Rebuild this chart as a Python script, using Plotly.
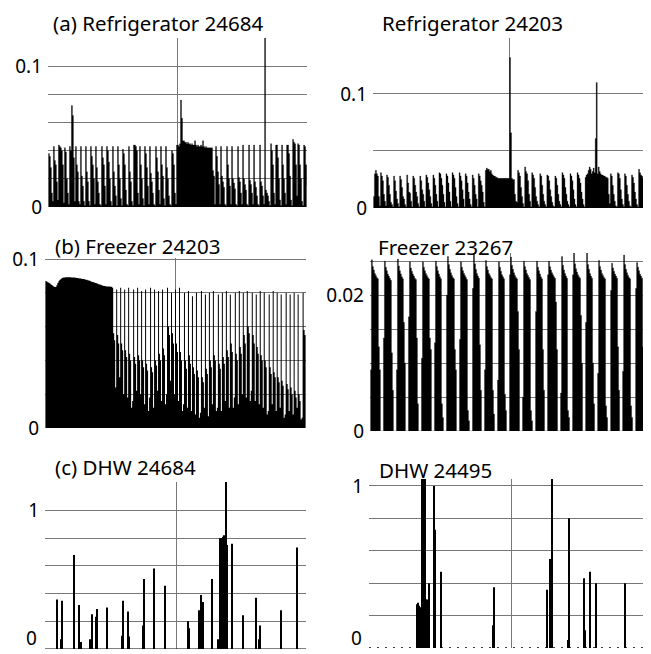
import plotly.graph_objects as go

# page body has an 8px default margin; the figure is sized so the page is 651x654
OFF = 8
W, H = 651 - OFF, 654 - OFF

# ---------------- (a) Refrigerator 24684 ----------------
ref24684_left_cycles = [
    [0.038, 0.036, 0.028, 0.010, 0.004],
    [0.043, 0.033, 0.030, 0.018, 0.005],
    [0.044, 0.043, 0.042, 0.040, 0.030, 0.003],
    [0.042, 0.039, 0.020, 0.010, 0.002],
    [0.043, 0.040, 0.072, 0.065, 0.035, 0.004],
    [0.043, 0.030, 0.025, 0.004, 0.002],
    [0.043, 0.022, 0.015, 0.004, 0.001],
    [0.043, 0.025, 0.018, 0.004, 0.001],
    [0.043, 0.036, 0.030, 0.020, 0.002],
    [0.043, 0.028, 0.018, 0.010, 0.002, 0.001],
    [0.043, 0.035, 0.030, 0.015, 0.002],
    [0.043, 0.040, 0.032, 0.020, 0.004, 0.001],
    [0.043, 0.025, 0.015, 0.008, 0.001],
    [0.043, 0.030, 0.020, 0.006, 0.001],
    [0.041, 0.038, 0.030, 0.012, 0.002, 0.001],
    [0.043, 0.025, 0.018, 0.004, 0.001],
    [0.044, 0.044, 0.043, 0.040, 0.010, 0.002],
    [0.043, 0.030, 0.020, 0.006, 0.001],
    [0.043, 0.038, 0.028, 0.015, 0.002],
    [0.043, 0.024, 0.018, 0.010, 0.002, 0.001],
    [0.043, 0.035, 0.025, 0.012, 0.002],
    [0.043, 0.030, 0.022, 0.006, 0.001],
    [0.043, 0.028, 0.020, 0.008, 0.002, 0.001],
    [0.040, 0.038, 0.030, 0.010, 0.002],
]
ref24684_block = [0.044, 0.044, 0.043, 0.045, 0.076, 0.063, 0.047, 0.047, 0.046, 0.046,
                  0.045, 0.046, 0.045, 0.045, 0.044, 0.045, 0.044, 0.044, 0.047, 0.044,
                  0.043, 0.044, 0.043, 0.043, 0.044, 0.043, 0.047, 0.043, 0.042, 0.043,
                  0.042, 0.042, 0.042, 0.042, 0.042, 0.042]
ref24684_right_cycles = [
    [0.026, 0.022, 0.002],
    [0.043, 0.036, 0.025, 0.016, 0.002],
    [0.043, 0.022, 0.018, 0.014, 0.002, 0.001],
    [0.043, 0.030, 0.020, 0.015, 0.002],
    [0.043, 0.020, 0.017, 0.013, 0.002, 0.001],
    [0.043, 0.021, 0.018, 0.010, 0.002],
    [0.044, 0.020, 0.016, 0.012, 0.002, 0.001],
    [0.044, 0.019, 0.016, 0.010, 0.002],
    [0.044, 0.018, 0.014, 0.008, 0.002, 0.001],
    [0.044, 0.018, 0.015, 0.008, 0.002],
    [0.130, 0.012, 0.010, 0.008, 0.004, 0.001],
    [0.045, 0.040, 0.030, 0.010, 0.002],
    [0.044, 0.044, 0.035, 0.020, 0.005, 0.001],
    [0.044, 0.030, 0.020, 0.010, 0.002],
    [0.044, 0.044, 0.038, 0.022, 0.005, 0.001],
    [0.048, 0.046, 0.045, 0.030, 0.008],
    [0.045, 0.044, 0.030, 0.020, 0.004, 0.001],
    [0.044, 0.043, 0.030, 0.015],
]

# ---------------- Refrigerator 24203 ----------------
ref24203_left_cycles = [
    [0.010, 0.030, 0.033, 0.030, 0.028, 0.010, 0.002],
    [0.031, 0.028, 0.024, 0.012, 0.006, 0.002],
    [0.029, 0.027, 0.020, 0.012, 0.005, 0.003, 0.001],
    [0.028, 0.024, 0.015, 0.008, 0.004, 0.001],
    [0.028, 0.025, 0.018, 0.010, 0.008, 0.003, 0.001],
    [0.029, 0.022, 0.014, 0.013, 0.006, 0.001],
    [0.028, 0.026, 0.020, 0.014, 0.010, 0.004, 0.001],
    [0.028, 0.024, 0.016, 0.012, 0.006, 0.001],
    [0.029, 0.027, 0.022, 0.016, 0.010, 0.004, 0.001],
    [0.029, 0.026, 0.020, 0.012, 0.006, 0.001],
    [0.031, 0.030, 0.026, 0.020, 0.012, 0.005, 0.001],
    [0.030, 0.028, 0.022, 0.014, 0.006, 0.001],
    [0.031, 0.029, 0.026, 0.018, 0.010, 0.004, 0.001],
    [0.031, 0.028, 0.024, 0.016, 0.008, 0.001],
    [0.030, 0.028, 0.022, 0.014, 0.008, 0.003, 0.001],
    [0.029, 0.026, 0.020, 0.012, 0.008, 0.001],
    [0.030, 0.028, 0.024, 0.020, 0.014, 0.005, 0.001],
]
ref24203_block1 = [0.033, 0.035, 0.034, 0.034, 0.032, 0.033, 0.030, 0.029, 0.028, 0.028,
                   0.027, 0.027, 0.026, 0.026, 0.026, 0.026, 0.026, 0.026, 0.026, 0.026,
                   0.026, 0.026, 0.026, 0.026, 0.132, 0.066, 0.026, 0.025, 0.025, 0.012,
                   0.006]
ref24203_mid_cycles = [
    [0.005, 0.033, 0.031, 0.028, 0.018, 0.010, 0.004, 0.001],
    [0.036, 0.032, 0.030, 0.024, 0.012, 0.006, 0.001],
    [0.031, 0.029, 0.026, 0.018, 0.010, 0.006, 0.003, 0.001],
    [0.030, 0.028, 0.020, 0.012, 0.006, 0.003, 0.001],
    [0.029, 0.028, 0.024, 0.016, 0.010, 0.005, 0.002, 0.001],
    [0.028, 0.026, 0.020, 0.012, 0.006, 0.003, 0.001],
    [0.031, 0.029, 0.026, 0.018, 0.012, 0.006, 0.003, 0.001],
    [0.030, 0.028, 0.024, 0.016, 0.008, 0.003, 0.001],
    [0.031, 0.029, 0.026, 0.022, 0.014, 0.008, 0.003, 0.001],
]
ref24203_block2 = [0.027, 0.029, 0.030, 0.033, 0.036, 0.034, 0.030, 0.032, 0.035, 0.031,
                   0.061, 0.110, 0.030, 0.036, 0.032, 0.030, 0.029, 0.029, 0.028, 0.028,
                   0.027, 0.027, 0.026, 0.012, 0.004]
ref24203_right_cycles = [
    [0.030, 0.028, 0.020, 0.012, 0.006, 0.002, 0.001],
    [0.031, 0.030, 0.026, 0.016, 0.008, 0.003, 0.001],
    [0.030, 0.028, 0.020, 0.012, 0.006, 0.002, 0.001],
    [0.029, 0.027, 0.022, 0.014, 0.008, 0.003, 0.001],
    [0.034, 0.031, 0.029, 0.028, 0.026, 0.012, 0.002],
]

# ---------------- (b) Freezer 24203 ----------------
frz24203_block = [0.087, 0.0867, 0.0863, 0.086, 0.0856, 0.085, 0.0846, 0.0842, 0.0838, 0.0835, 0.0834,
                  0.0845, 0.0858, 0.0869, 0.0876, 0.0882, 0.0886, 0.0889,
                  0.089, 0.0891, 0.0892, 0.0892, 0.0892, 0.0892, 0.0892, 0.0892, 0.0891, 0.0891,
                  0.089, 0.089, 0.0889, 0.0888, 0.0887,
                  0.0886, 0.0885, 0.0884, 0.0883, 0.0882, 0.0881, 0.0880, 0.0878, 0.0877, 0.0875,
                  0.0873, 0.0871, 0.0869, 0.0866, 0.0864, 0.0862, 0.086, 0.0858, 0.0856, 0.0853,
                  0.0851, 0.0849, 0.0847, 0.0845, 0.0843, 0.0841, 0.084, 0.0839, 0.0838, 0.0838,
                  0.0837, 0.0837, 0.0836, 0.0836]
frz24203_cycles = [
    [0.083, 0.056, 0.052, 0.024], [0.082, 0.055, 0.050, 0.030], [0.083, 0.050, 0.046, 0.020],
    [0.082, 0.046, 0.042, 0.018], [0.083, 0.044, 0.040, 0.012, 0.016], [0.082, 0.042, 0.038, 0.022],
    [0.083, 0.043, 0.040, 0.020], [0.081, 0.040, 0.036, 0.014], [0.082, 0.038, 0.034, 0.010, 0.018],
    [0.083, 0.036, 0.033, 0.012], [0.082, 0.040, 0.037, 0.022], [0.081, 0.044, 0.040, 0.016],
    [0.082, 0.047, 0.043, 0.014, 0.020], [0.083, 0.060, 0.055, 0.028], [0.080, 0.056, 0.050, 0.020],
    [0.082, 0.050, 0.045, 0.016], [0.083, 0.045, 0.040, 0.010, 0.014], [0.080, 0.040, 0.035, 0.012],
    [0.081, 0.043, 0.038, 0.010], [0.078, 0.036, 0.032, 0.008], [0.080, 0.034, 0.030, 0.006, 0.009],
    [0.081, 0.030, 0.027, 0.012], [0.079, 0.035, 0.032, 0.007], [0.080, 0.040, 0.036, 0.014],
    [0.081, 0.043, 0.040, 0.010, 0.012], [0.079, 0.038, 0.035, 0.010], [0.080, 0.042, 0.038, 0.016],
    [0.081, 0.046, 0.042, 0.012], [0.079, 0.050, 0.045, 0.012, 0.018], [0.080, 0.044, 0.040, 0.014],
    [0.081, 0.048, 0.044, 0.020], [0.080, 0.055, 0.050, 0.018], [0.081, 0.060, 0.056, 0.016, 0.022],
    [0.080, 0.055, 0.050, 0.016], [0.079, 0.048, 0.044, 0.014], [0.081, 0.043, 0.040, 0.012],
    [0.080, 0.040, 0.036, 0.008, 0.010], [0.079, 0.036, 0.032, 0.014], [0.081, 0.033, 0.030, 0.010],
    [0.080, 0.030, 0.027, 0.012], [0.079, 0.028, 0.025, 0.006, 0.008], [0.080, 0.026, 0.023, 0.010],
    [0.079, 0.024, 0.020, 0.008], [0.080, 0.022, 0.018, 0.012], [0.079, 0.020, 0.016, 0.005, 0.006],
    [0.080, 0.058, 0.055, 0.055],
]

# ---------------- Freezer 23267 ----------------
frz23267_cycles = [
    [0.009, 0.0252, 0.0242, 0.0237, 0.0232, 0.0229, 0.0226, 0.0224, 0.0124, 0.009, 0, 0, 0],
    [0.0137, 0.0250, 0.0241, 0.0236, 0.0231, 0.0228, 0.0225, 0.0222, 0.0115, 0.006, 0, 0, 0],
    [0.009, 0.0253, 0.0243, 0.0236, 0.0231, 0.0227, 0.0224, 0.016, 0.010, 0, 0, 0],
    [0.0168, 0.0249, 0.0240, 0.0235, 0.0231, 0.0228, 0.0225, 0.0223, 0.0137, 0.004, 0, 0, 0],
    [0.0107, 0.0249, 0.0241, 0.0236, 0.0232, 0.0229, 0.0226, 0.0224, 0.0137, 0.012, 0, 0, 0],
    [0.013, 0.0250, 0.0242, 0.0236, 0.0231, 0.0227, 0.0224, 0.004, 0.002, 0, 0, 0],
    [0.020, 0.0257, 0.0245, 0.0238, 0.0233, 0.0229, 0.0226, 0.0224, 0.012, 0.009, 0, 0, 0],
    [0.0135, 0.0249, 0.0241, 0.0236, 0.0232, 0.0229, 0.0226, 0.0223, 0.003, 0.0015, 0, 0, 0],
    [0.021, 0.0262, 0.0246, 0.0238, 0.0232, 0.0228, 0.0225, 0.0127, 0.006, 0, 0, 0],
    [0.009, 0.0251, 0.0242, 0.0237, 0.0232, 0.0229, 0.0226, 0.0224, 0.006, 0.0025, 0, 0, 0],
    [0.0075, 0.0249, 0.0241, 0.0235, 0.0230, 0.0227, 0.0224, 0.0054, 0.003, 0, 0, 0],
    [0.023, 0.0256, 0.0244, 0.0238, 0.0233, 0.0229, 0.0226, 0.0224, 0.0176, 0.012, 0, 0, 0],
    [0.005, 0.0250, 0.0242, 0.0237, 0.0232, 0.0229, 0.0226, 0.0223, 0.003, 0.0015, 0, 0, 0],
    [0.0176, 0.0250, 0.0241, 0.0236, 0.0231, 0.0227, 0.0224, 0.012, 0.006, 0, 0, 0],
    [0.023, 0.0250, 0.0242, 0.0237, 0.0233, 0.0230, 0.0227, 0.0225, 0.019, 0.012, 0, 0, 0],
    [0.0056, 0.0257, 0.0244, 0.0237, 0.0232, 0.0228, 0.0225, 0.003, 0.002, 0, 0, 0],
    [0.023, 0.0262, 0.0246, 0.0239, 0.0234, 0.0230, 0.0227, 0.0225, 0.017, 0.010, 0, 0, 0],
    [0.016, 0.0262, 0.0245, 0.0238, 0.0232, 0.0228, 0.0225, 0.010, 0.004, 0, 0, 0],
    [0.0085, 0.0251, 0.0242, 0.0237, 0.0232, 0.0229, 0.0226, 0.0224, 0.0037, 0.002, 0, 0, 0],
    [0.0207, 0.0247, 0.0240, 0.0235, 0.0231, 0.0228, 0.0225, 0.0124, 0.006, 0, 0, 0],
    [0.0088, 0.0259, 0.0245, 0.0238, 0.0233, 0.0229, 0.0226, 0.0224, 0.0037, 0.002, 0, 0, 0],
    [0.021, 0.0248, 0.0241, 0.0236, 0.0231, 0.0228, 0.0225, 0.0124, 0.004, 0, 0, 0],
    [0.018, 0.0247, 0.0238, 0.0232],
]

# ---------------- (c) DHW 24684 (events: time index, value) ----------------
dhw24684_t = [12, 16, 17, 29, 34, 36, 45, 47, 51, 52, 62, 77, 78, 83, 84, 98, 99, 109, 120,
              143, 144, 154, 156, 158, 167, 173, 175, 176, 177, 178, 179, 181, 182, 187,
              198, 211, 214, 215, 236, 252]
dhw24684_v = [0.358, 0.07, 0.349, 0.678, 0.317, 0.05, 0.07, 0.25, 0.233, 0.288, 0.30, 0.095,
              0.349, 0.27, 0.09, 0.17, 0.505, 0.58, 0.457, 0.20, 0.15, 0.28, 0.39, 0.34, 0.505,
              0.07, 0.80, 0.80, 0.80, 0.81, 0.82, 1.25, 0.75, 0.76, 0.243, 0.37, 0.07, 0.17,
              0.28, 0.733]

# ---------------- DHW 24495 ----------------
dhw24495_t = [48, 49, 50, 51, 52, 53, 54, 55, 56, 57, 58, 60, 65, 66, 72, 124, 125, 178, 181,
              183, 199, 200, 215, 216, 221, 227, 256]
dhw24495_v = [0.27, 0.28, 0.26, 0.25, 0.25, 1.1, 1.1, 1.1, 1.1, 0.30, 0.30, 0.40, 1.0, 0.73,
              0.47, 0.14, 0.375, 0.36, 0.55, 1.1, 0.05, 0.80, 0.43, 0.11, 0.47, 0.40, 0.40]

titles = ["(a) Refrigerator 24684", "Refrigerator 24203", "(b) Freezer 24203",
          "Freezer 23267", "(c) DHW 24684", "DHW 24495"]


def flat(cycles):
    return [v for c in cycles for v in c]


series1 = flat(ref24684_left_cycles) + ref24684_block + flat(ref24684_right_cycles)
series2 = (flat(ref24203_left_cycles) + ref24203_block1 + flat(ref24203_mid_cycles)
           + ref24203_block2 + flat(ref24203_right_cycles))
series3 = frz24203_block + flat(frz24203_cycles)
series4 = flat(frz23267_cycles)

# panel geometry in page pixels: (left, right, top, bottom)
boxes = [(48, 307, 38, 207), (373, 645, 38, 208), (45, 306, 258, 428),
         (370, 651, 253, 431), (45, 306, 482, 649), (369, 651, 479, 648)]
yranges = [0.12, 0.1491, 0.1006, 0.0262, 1.205, 1.043]
ygrid = [[0, 0.02, 0.04, 0.06, 0.08, 0.1], [0, 0.05, 0.1], [0, 0.02, 0.04, 0.06, 0.08, 0.1],
         [0, 0.005, 0.01, 0.015, 0.02, 0.025], [0, 0.2, 0.4, 0.6, 0.8, 1.0, 1.2],
         [0, 0.2, 0.4, 0.6, 0.8, 1.0]]
# bottom-row zero labels are placed as annotations so they stay inside the page
ylabels = [["0", "", "", "", "", "0.1"], ["0", "", "0.1"], ["0", "", "", "", "", "0.1"],
           ["0", "", "", "", "0.02", ""], ["", "", "", "", "", "1", ""],
           ["", "", "", "", "", "1"]]
title_pos = [(51, 23), (380, 23), (53, 246), (376, 247), (53, 467), (377, 470)]
line_widths = [0.3, 0.3, 0.0, 0.3]


def fx(px):
    return min(1.0, max(0.0, (px - OFF) / W))


def fy(py):
    return min(1.0, max(0.0, 1 - (py - OFF) / H))


fig = go.Figure()
xranges = []
for i, s in enumerate([series1, series2, series3, series4]):
    n = len(s)
    xranges.append((0, n - 1, (n - 1) / 2))
    ax = "" if i == 0 else str(i + 1)
    fig.add_trace(go.Scatter(x=list(range(n)), y=s, mode="lines",
                             line=dict(shape="hv", width=line_widths[i], color="black"),
                             fill="tozeroy", fillcolor="black",
                             xaxis="x" + ax, yaxis="y" + ax, showlegend=False,
                             hoverinfo="skip"))
xranges.append((0, 261, 131))
xranges.append((0, 282, 143))
for i, (t, v) in enumerate([(dhw24684_t, dhw24684_v), (dhw24495_t, dhw24495_v)]):
    k = str(i + 5)
    fig.add_trace(go.Bar(x=t, y=v, width=1.1, marker=dict(color="black", line=dict(width=0)),
                         xaxis="x" + k, yaxis="y" + k, showlegend=False, hoverinfo="skip"))

layout = dict(width=W, height=H, margin=dict(l=0, r=0, t=0, b=0),
              paper_bgcolor="white", plot_bgcolor="white", barmode="overlay",
              font=dict(family="Noto Sans", color="black"))
GRID = "#777777"
for i in range(6):
    l, r, tp, bt = boxes[i]
    k = "" if i == 0 else str(i + 1)
    x0, x1, xm = xranges[i]
    layout["xaxis" + k] = dict(domain=[fx(l), fx(r)], range=[x0 - 0.4, x1 + 0.4],
                               anchor="y" + k,
                               tickvals=[x0, xm, x1], showticklabels=False, ticks="",
                               showgrid=True, gridcolor=GRID, gridwidth=1.3,
                               zeroline=False, showline=False, fixedrange=True,
                               automargin=False)
    layout["yaxis" + k] = dict(domain=[fy(bt), fy(tp)], range=[0, yranges[i]],
                               anchor="x" + k, tickvals=ygrid[i], ticktext=ylabels[i],
                               ticks="", ticklabelstandoff=5, ticklabeloverflow="allow",
                               tickfont=dict(family="Noto Sans", size=19, color="black"),
                               showgrid=True, gridcolor=GRID, gridwidth=1.3,
                               zeroline=False, showline=False, fixedrange=True,
                               automargin=False)

annotations = []
for (px, py), txt in zip(title_pos, titles):
    annotations.append(dict(x=fx(px), y=fy(py), xref="paper", yref="paper",
                            text=txt, showarrow=False, xanchor="left", yanchor="middle",
                            font=dict(family="Noto Sans", size=20.5, color="black")))
for px in (39, 364):
    annotations.append(dict(x=fx(px), y=fy(653), xref="paper", yref="paper", text="0",
                            showarrow=False, xanchor="right", yanchor="bottom",
                            font=dict(family="Noto Sans", size=19, color="black")))
layout["annotations"] = annotations

shapes = [dict(type="line", xref="x6 domain", yref="y6", x0=0, x1=1, y0=0, y1=0,
               line=dict(color="black", width=1.5, dash="2px,6px")),
          dict(type="line", xref="x5 domain", yref="y5", x0=0, x1=1, y0=0, y1=0,
               line=dict(color="black", width=1.2))]
layout["shapes"] = shapes
fig.update_layout(**layout)
fig.write_html("out.html")
